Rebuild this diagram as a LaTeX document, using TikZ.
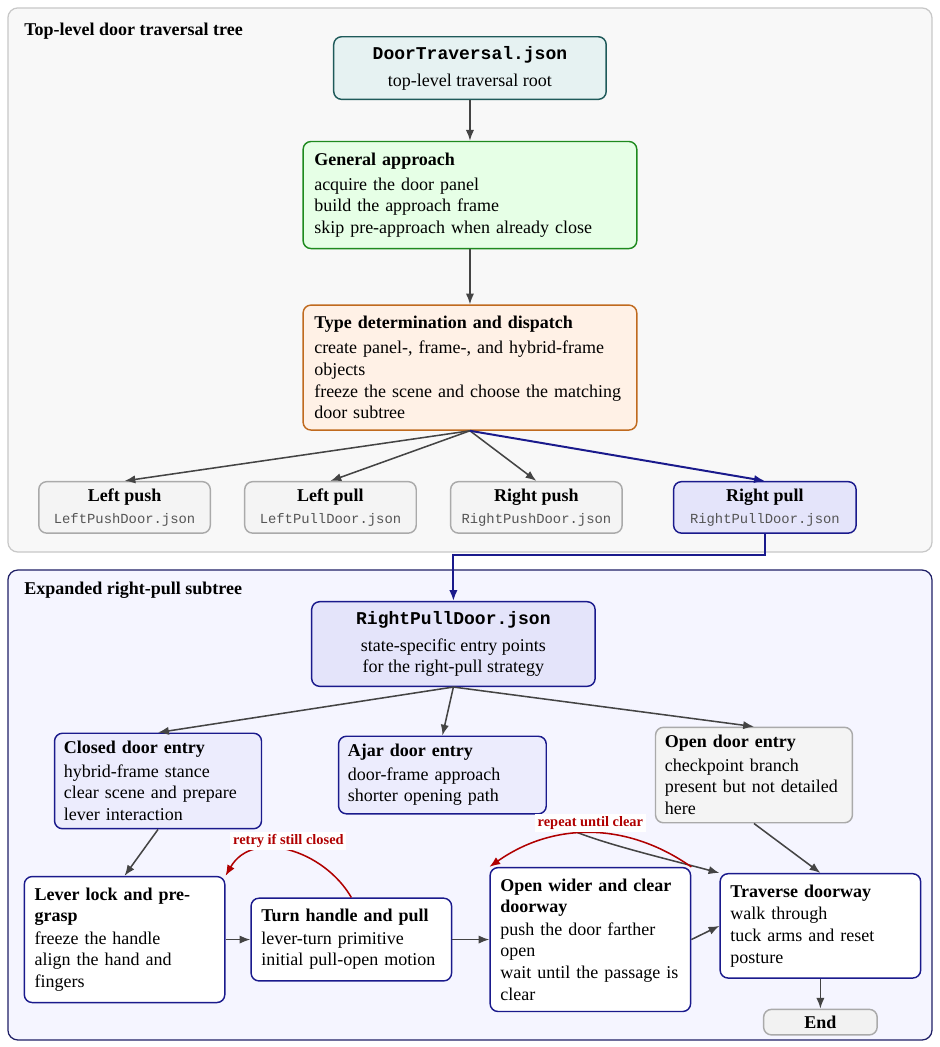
\documentclass[tikz,border=0pt]{standalone}
\usepackage{fontspec}
\setmainfont{Liberation Serif}
\setmonofont{Liberation Mono}
\usetikzlibrary{arrows.meta,positioning}
\definecolor{rootline}{HTML}{1F5A5A}
\definecolor{rootfill}{HTML}{E6F2F2}
\definecolor{genline}{HTML}{1E8A1E}
\definecolor{genfill}{HTML}{E6FFE6}
\definecolor{typeline}{HTML}{C06A1E}
\definecolor{typefill}{HTML}{FFF1E6}
\definecolor{pullline}{HTML}{1A1A8C}
\definecolor{pullfill}{HTML}{E4E4FA}
\definecolor{entryfill}{HTML}{ECECFD}
\definecolor{leafline}{HTML}{AAAAAA}
\definecolor{leaffill}{HTML}{F4F4F4}
\definecolor{endfill}{HTML}{F2F2F2}
\definecolor{filegray}{HTML}{555555}
\definecolor{arrowgray}{HTML}{444444}
\definecolor{loopred}{HTML}{B00000}
\definecolor{toppanel}{HTML}{F8F8F8}
\definecolor{toppanelline}{HTML}{C8C8C8}
\definecolor{subpanel}{HTML}{F5F5FF}
\definecolor{subpanelline}{HTML}{1F1F66}
\newcommand{\jsonfile}[1]{{\color{filegray}\fontsize{7.7}{9}\selectfont\ttfamily #1}}
\hyphenpenalty=10000

\begin{document}
\begin{tikzpicture}[
      x=1pt, y=1pt,
      node distance=18.3pt and 18.3pt,
      card/.style={rounded corners=4.4pt, line width=0.8pt},
      rootbox/.style={card, draw=rootline, fill=rootfill, align=center,
        minimum width=151.4pt, minimum height=34.8pt},
      stagebox/.style={card, align=left, text width=173pt,
        inner xsep=6.2pt, inner ysep=6.2pt},
      leafbox/.style={card, draw=leafline, fill=leaffill, align=center,
        minimum width=95.3pt, minimum height=28.6pt, inner sep=2pt},
      pickbox/.style={leafbox, draw=pullline, fill=pullfill,
        minimum width=101.4pt},
      subroot/.style={card, draw=pullline, fill=pullfill, align=center,
        minimum width=157.5pt, minimum height=47pt},
      entrybox/.style={card, draw=pullline, fill=entryfill, align=left,
        inner xsep=5.2pt, inner ysep=4.5pt},
      skipbox/.style={entrybox, draw=leafline, fill=leaffill},
      actbox/.style={card, draw=pullline, fill=white, align=left,
        text width=100pt, inner xsep=5.7pt, inner ysep=6.2pt},
      endbox/.style={card, draw=leafline, fill=endfill,
        minimum width=63.1pt, minimum height=14.2pt, inner sep=1pt},
      panel/.style={rounded corners=5.5pt, line width=0.7pt},
      paneltitle/.style={anchor=west, inner sep=0pt, font=\bfseries},
      arr/.style={
        -{Latex[length=6pt,width=4.6pt]},
        line width=0.85pt,
        arrowgray
      },
      pickarr/.style={arr, line width=1.1pt, pullline},
      looparr/.style={arr, loopred},
      looplabel/.style={fill=white, text=loopred,
        font=\footnotesize\bfseries, inner sep=1.5pt}
    ]

    \useasboundingbox (0,0) rectangle (522.2,-581.7);

    \draw[panel, draw=toppanelline, fill=toppanel]
      (4.4,-4.4) rectangle (517.8,-306.7);
    \draw[panel, draw=subpanelline, fill=subpanel]
      (4.4,-316.7) rectangle (517.8,-577.8);

    \node[paneltitle] (toptitle) at (13.3,-17.2)
      {Top-level door traversal tree};
    \node[paneltitle] (subtitle) at (13.3,-327.8)
      {Expanded right-pull subtree};

    \node[rootbox] (root) at (261.1,-37.8)
      {{\ttfamily\bfseries DoorTraversal.json}\\[3pt]top-level traversal root};

    \node[stagebox, draw=genline, fill=genfill, below=22.6pt of root] (approach)
      {\textbf{General approach}\\[2pt]acquire the door panel\\build the approach frame\\skip pre-approach when already close};

    \node[stagebox, draw=typeline, fill=typefill, below=30.6pt of approach] (dispatch)
      {\textbf{Type determination and dispatch}\\[2pt]create panel-, frame-, and hybrid-frame objects\\freeze the scene and choose the matching door subtree};

    \node[leafbox] (lpush) at (69.2,-281.9)
      {\textbf{Left push}\\\jsonfile{LeftPushDoor.json}};

    \node[leafbox, right=of lpush] (lpull)
      {\textbf{Left pull}\\\jsonfile{LeftPullDoor.json}};

    \node[leafbox, right=of lpull] (rpush)
      {\textbf{Right push}\\\jsonfile{RightPushDoor.json}};

    \node[pickbox, right=27.8pt of rpush] (rpull)
      {\textbf{Right pull}\\\jsonfile{RightPullDoor.json}};

    \node[subroot] (rpdoor) at (251.9,-357.8)
      {{\ttfamily\bfseries RightPullDoor.json}\\[3pt]state-specific entry points\\for the right-pull strategy};

    \node[entrybox, text width=104.6pt] (closed) at (87.8,-433.9)
      {\textbf{Closed door entry}\\[1pt]hybrid-frame stance\\clear scene and prepare lever interaction};

    \node[entrybox, text width=105pt] (ajar) at (245.8,-430.6)
      {\textbf{Ajar door entry}\\[1pt]door-frame approach\\shorter opening path};

    \node[skipbox, text width=99pt] (opened) at (418.9,-430.6)
      {\textbf{Open door entry}\\[1pt]checkpoint branch\\present but not detailed here};

    \node[actbox] (lever) at (69.2,-522.0)
      {\textbf{Lever lock and pre-grasp}\\[0.5pt]freeze the handle\\align the hand and fingers};

    \node[actbox, right=13.8pt of lever] (turn)
      {\textbf{Turn handle and pull}\\[0.5pt]lever-turn primitive\\initial pull-open motion};

    \node[actbox, right=20.6pt of turn] (wider)
      {\textbf{Open wider and clear doorway}\\[0.5pt]push the door farther open\\wait until the passage is clear};

    \node[actbox] (traverse) at (455.8,-514.4)
      {\textbf{Traverse doorway}\\[0.5pt]walk through\\tuck arms and reset posture};

    \node[endbox, below=16.6pt of traverse] (finish) {\textbf{End}};

    \draw[arr] (root)--(approach);
    \draw[arr] (approach)--(dispatch);

    \draw[arr] (dispatch.south)--(lpush.north);
    \draw[arr] (dispatch.south)--(lpull.north);
    \draw[arr] (dispatch.south)--(rpush.north);
    \draw[pickarr] (dispatch.south)--(rpull.north);

    \draw[pickarr]
  (rpull.south) -- ++(0,-11.7)
  -| (rpdoor.north);

    \draw[arr] (rpdoor.south)--(closed.north);
    \draw[arr] (rpdoor.south)--(ajar.north);
    \draw[arr] (rpdoor.south)--(opened.north);

    \draw[arr] (closed.south)--(lever.north);
    \draw[arr] (lever)--(turn);
    \draw[arr] (turn)--(wider);
    \draw[arr] (wider.east)--(traverse.west);
    \draw[arr] (opened.south)--(traverse.north);
    \draw[arr]
  (ajar.south east) .. controls +(-60:12) and +(165:40) .. (traverse.north west);
    \draw[arr] (traverse)--(finish);

    \draw[looparr] (turn.north) to[out=120,in=60,looseness=1.1]
      node[looplabel, above] (retry) {retry if still closed} (lever.north east);
    \draw[looparr] (wider.north east) to[out=145,in=35]
      node[looplabel, above] (repeat) {repeat until clear} (wider.north west);

  \end{tikzpicture}
\end{document}
